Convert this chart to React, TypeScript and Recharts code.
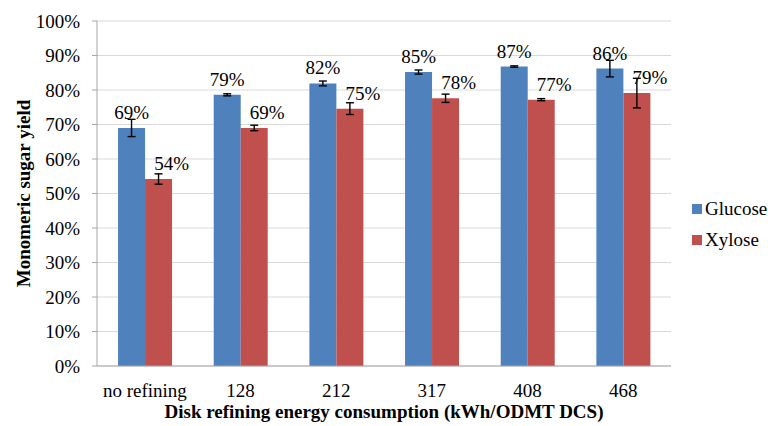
import { BarChart, Bar, XAxis, YAxis, CartesianGrid, Legend, LabelList, ErrorBar } from 'recharts'

const categories = ['no refining', '128', '212', '317', '408', '468']
const glucose = [69.0, 78.6, 81.9, 85.2, 86.8, 86.2]
const glucoseErr = [2.5, 0.3, 0.7, 0.6, 0.2, 2.4]
const xylose = [54.2, 69.0, 74.6, 77.6, 77.2, 79.1]
const xyloseErr = [1.5, 0.8, 1.7, 1.2, 0.3, 4.3]
const yTicks = [0, 10, 20, 30, 40, 50, 60, 70, 80, 90, 100]
const boundaryTicks = [0, 1, 2, 3, 4, 5, 6]

const COLORS = { glucose: '#4F81BD', xylose: '#C0504D', grid: '#D9D9D9', axis: '#A6A6A6' }
const FONT = 'Liberation Serif'

const data = categories.map((c, i) => ({
  name: c,
  glucose: glucose[i],
  glucoseErr: glucoseErr[i],
  xylose: xylose[i],
  xyloseErr: xyloseErr[i],
}))

const pctLabel = (dx: number) => (props: any) => {
  const { x, y, width, value } = props
  return (
    <text x={x + width / 2 + dx} y={y - 9} textAnchor="middle" style={{ fontFamily: FONT, fontSize: 19 }} fill="#000">
      {Math.round(value)}%
    </text>
  )
}

function LegendBox(props: any) {
  const { payload } = props
  return (
    <div style={{ fontFamily: FONT, fontSize: 19, color: '#000' }}>
      {(payload ?? []).map((p: any) => (
        <div key={p.value} style={{ display: 'flex', alignItems: 'center', height: 31 }}>
          <span style={{ width: 10, height: 10, background: p.color, display: 'inline-block', marginRight: 3 }} />
          {p.value}
        </div>
      ))}
    </div>
  )
}

const tickStyle = { fontFamily: FONT, fontSize: 19, fill: '#000', style: { fontFamily: FONT } }
const titleStyle = { fontFamily: FONT, fontSize: 19, fontWeight: 'bold', fill: '#000' }

export default function App() {
  return (
    <div style={{ position: 'fixed', left: 0, top: 0, background: '#fff', fontFamily: FONT }}>
      <BarChart
        width={768}
        height={426}
        data={data}
        margin={{ top: 21, right: 97, bottom: 0, left: 0 }}
        barCategoryGap="22%"
        barGap={0}
        style={{ fontFamily: FONT }}
      >
        <CartesianGrid vertical={false} stroke={COLORS.grid} />
        <XAxis
          xAxisId="b"
          type="number"
          domain={[0, 6]}
          ticks={boundaryTicks}
          tick={false}
          height={0}
          axisLine={false}
          tickLine={{ stroke: COLORS.axis }}
          tickSize={6}
        />
        <XAxis
          dataKey="name"
          height={60}
          axisLine={{ stroke: COLORS.axis }}
          tickLine={false}
          tickMargin={12}
          tick={tickStyle}
          label={{
            value: 'Disk refining energy consumption (kWh/ODMT DCS)',
            position: 'insideBottom',
            offset: 8,
            style: titleStyle,
          }}
        />
        <YAxis
          width={97}
          domain={[0, 100]}
          ticks={yTicks}
          tickFormatter={(v) => `${v}%`}
          axisLine={{ stroke: COLORS.axis }}
          tickLine={{ stroke: COLORS.axis }}
          tickSize={5}
          tickMargin={12}
          tick={tickStyle}
          label={{
            value: 'Monomeric sugar yield',
            angle: -90,
            position: 'insideLeft',
            offset: 23,
            style: { ...titleStyle, textAnchor: 'middle' },
          }}
        />
        <Legend
          layout="vertical"
          align="center"
          verticalAlign="middle"
          content={<LegendBox />}
          wrapperStyle={{ left: 692, top: 193, width: 76 }}
        />
        <Bar dataKey="glucose" name="Glucose" fill={COLORS.glucose} isAnimationActive={false}>
          <ErrorBar dataKey="glucoseErr" width={4} stroke="#000" strokeWidth={1.4} />
          <LabelList dataKey="glucose" content={pctLabel(0)} />
        </Bar>
        <Bar dataKey="xylose" name="Xylose" fill={COLORS.xylose} isAnimationActive={false}>
          <ErrorBar dataKey="xyloseErr" width={4} stroke="#000" strokeWidth={1.4} />
          <LabelList dataKey="xylose" content={pctLabel(13)} />
        </Bar>
      </BarChart>
    </div>
  )
}
